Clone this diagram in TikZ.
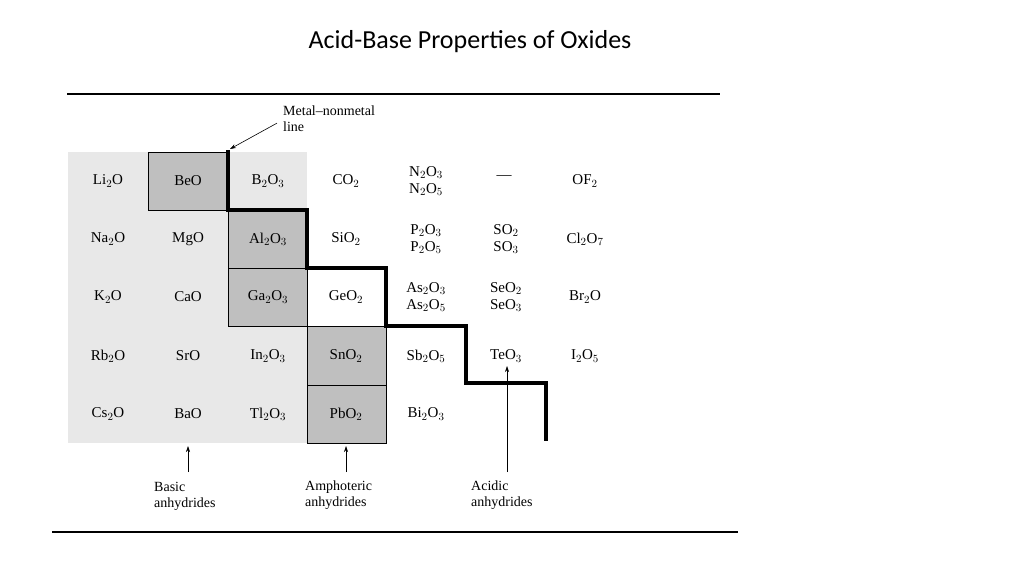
\documentclass[tikz,border=0pt]{standalone}
\usepackage{fontspec}
\usetikzlibrary{arrows.meta}
\setmainfont{Liberation Serif}
\newfontfamily\titlefont{Carlito}
\begin{document}
\begin{tikzpicture}[x=1pt,y=-1pt,
  cell/.style={font=\fontsize{15}{17}\selectfont, align=center, inner sep=0pt},
  lab/.style={font=\fontsize{14}{16}\selectfont, align=left, anchor=north west, inner sep=0pt},
  arr/.style={-{Stealth[length=6pt,width=4pt]}, line width=0.6pt}]
\useasboundingbox (0,0) rectangle (1024,576);
\node[font=\titlefont\fontsize{26}{30}\selectfont] (title) at (470,42) {Acid-Base Properties of Oxides};
\draw[line width=1.2pt] (67,94) -- (720,94);
\draw[line width=1.2pt] (52,532) -- (738,532);
\fill[gray!18] (68,152) rectangle (307,443);
\fill[gray!50] (148,152) rectangle (228,210);
\fill[gray!50] (228,210) rectangle (307,326);
\fill[gray!50] (307,326) rectangle (386,443);
\draw[line width=0.5pt] (148,152) rectangle (228,210);
\draw[line width=0.5pt] (228,210) rectangle (307,326);
\draw[line width=0.5pt] (228,268) -- (307,268);
\draw[line width=0.5pt] (307,326) rectangle (386,443);
\draw[line width=0.5pt] (307,385) -- (386,385);
\draw[line width=0.5pt] (307,268) -- (307,443);
\draw[line width=3.5pt] (228,150) -- (228,210) -- (307,210) -- (307,268) -- (386,268) -- (386,326) -- (466,326) -- (466,383) -- (546,383) -- (546,441);
% row 1
\node[cell] (c11) at (108,181) {Li$_2$O};
\node[cell] (c12) at (188,181) {BeO};
\node[cell] (c13) at (268,181) {B$_2$O$_3$};
\node[cell] (c14) at (346,181) {CO$_2$};
\node[cell] (c15) at (426,181) {N$_2$O$_3$\\N$_2$O$_5$};
\node[cell] (c16) at (504,178) {---};
\node[cell] (c17) at (585,181) {OF$_2$};
% row 2
\node[cell] (c21) at (108,239) {Na$_2$O};
\node[cell] (c22) at (188,239) {MgO};
\node[cell] (c23) at (268,239) {Al$_2$O$_3$};
\node[cell] (c24) at (346,239) {SiO$_2$};
\node[cell] (c25) at (426,239) {P$_2$O$_3$\\P$_2$O$_5$};
\node[cell] (c26) at (506,239) {SO$_2$\\SO$_3$};
\node[cell] (c27) at (585,239) {Cl$_2$O$_7$};
% row 3
\node[cell] (c31) at (108,297) {K$_2$O};
\node[cell] (c32) at (188,297) {CaO};
\node[cell] (c33) at (268,297) {Ga$_2$O$_3$};
\node[cell] (c34) at (346,297) {GeO$_2$};
\node[cell] (c35) at (426,297) {As$_2$O$_3$\\As$_2$O$_5$};
\node[cell] (c36) at (506,297) {SeO$_2$\\SeO$_3$};
\node[cell] (c37) at (585,297) {Br$_2$O};
% row 4
\node[cell] (c41) at (108,356) {Rb$_2$O};
\node[cell] (c42) at (188,356) {SrO};
\node[cell] (c43) at (268,356) {In$_2$O$_3$};
\node[cell] (c44) at (346,356) {SnO$_2$};
\node[cell] (c45) at (426,356) {Sb$_2$O$_5$};
\node[cell] (c46) at (506,356) {TeO$_3$};
\node[cell] (c47) at (585,356) {I$_2$O$_5$};
% row 5
\node[cell] (c51) at (108,414) {Cs$_2$O};
\node[cell] (c52) at (188,414) {BaO};
\node[cell] (c53) at (268,414) {Tl$_2$O$_3$};
\node[cell] (c54) at (346,414) {PbO$_2$};
\node[cell] (c55) at (426,414) {Bi$_2$O$_3$};
% labels
\node[lab] (mn) at (283,106) {Metal--nonmetal\\line};
\coordinate (mnt) at (230,149);
\draw[arr] (mn.west) ++(-6,4) -- (mnt);
\node[lab] (basic) at (154,482) {Basic\\anhydrides};
\node[lab] (amph) at (305,481) {Amphoteric\\anhydrides};
\node[lab] (acid) at (471,481) {Acidic\\anhydrides};
\coordinate (b1) at (188,472); \coordinate (b2) at (188,446);
\coordinate (a1) at (346,472); \coordinate (a2) at (346,446);
\coordinate (d1) at (507,472); \coordinate (d2) at (507,366);
\draw[arr] (b1) -- (b2);
\draw[arr] (a1) -- (a2);
\draw[arr] (d1) -- (d2);
\end{tikzpicture}
\end{document}
